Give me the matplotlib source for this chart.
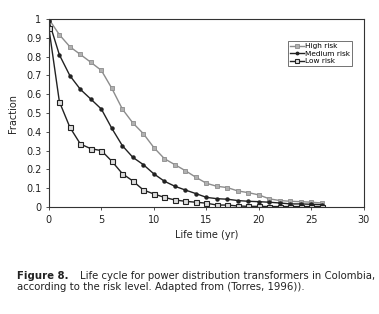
import numpy as np
import matplotlib
matplotlib.use("Agg")
import matplotlib.pyplot as plt

# values
years = list(range(0, 27))
high_risk = [1.0, 0.917, 0.853, 0.812, 0.770, 0.727, 0.631, 0.521, 0.447, 0.390,
             0.316, 0.257, 0.225, 0.193, 0.158, 0.126, 0.110, 0.103, 0.085, 0.076,
             0.064, 0.043, 0.034, 0.030, 0.028, 0.025, 0.021]
medium_risk = [0.99, 0.810, 0.699, 0.626, 0.574, 0.521, 0.418, 0.326, 0.264, 0.225,
               0.176, 0.137, 0.110, 0.090, 0.071, 0.051, 0.044, 0.041, 0.034, 0.030,
               0.028, 0.025, 0.021, 0.016, 0.016, 0.014, 0.012]
low_risk = [0.952, 0.560, 0.424, 0.335, 0.310, 0.300, 0.243, 0.177, 0.138, 0.090,
            0.069, 0.051, 0.037, 0.030, 0.025, 0.020, 0.010, 0.010, 0.005, 0.003,
            0.003, 0.002, 0.002, 0.002, 0.002, 0.002, 0.002]
labels = ["High risk", "Medium risk", "Low risk"]

fig = plt.figure(figsize=(3.79, 3.14), dpi=100)
ax = fig.add_axes([0.129, 0.341, 0.831, 0.598])

ax.plot(years, high_risk, color="#8c8c8c", lw=1.0, marker="s", ms=3.0,
        mfc="#b0b0b0", mec="#8c8c8c", mew=0.6, label=labels[0])
ax.plot(years, medium_risk, color="#222222", lw=1.0, marker="o", ms=2.2,
        mfc="#222222", mec="#222222", label=labels[1])
ax.plot(years, low_risk, color="#222222", lw=1.0, marker="s", ms=3.6,
        mfc="#dddddd", mec="#222222", mew=0.8, label=labels[2])

ax.set_xlim(0, 30)
ax.set_ylim(0, 1)
ax.set_xticks(np.arange(0, 31, 5))
ax.set_yticks(np.arange(0, 1.01, 0.1))
ax.set_yticklabels(["0", "0.1", "0.2", "0.3", "0.4", "0.5", "0.6", "0.7", "0.8", "0.9", "1"])
ax.tick_params(labelsize=7, length=2.5, width=0.6, color="#333333", labelcolor="#222222", pad=3)
for s in ax.spines.values():
    s.set_linewidth(0.8)
    s.set_color("#333333")
ax.set_xlabel("Life time (yr)", fontsize=7, color="#222222", labelpad=4)
ax.set_ylabel("Fraction", fontsize=7, color="#222222", labelpad=6)

leg = ax.legend(loc="upper right", bbox_to_anchor=(0.962, 0.883), fontsize=5.3,
                frameon=True, fancybox=False, borderpad=0.25, handlelength=2.0,
                handletextpad=0.1, labelspacing=0.2, borderaxespad=0, markerscale=0.8)
leg.get_frame().set_edgecolor("#333333")
leg.get_frame().set_linewidth(0.6)

fig.text(0.045, 0.121, "Figure 8.", fontsize=7.3, fontweight="bold", color="#222222", va="center")
fig.text(0.211, 0.121, "Life cycle for power distribution transformers in Colombia,",
         fontsize=7.25, color="#222222", va="center")
fig.text(0.045, 0.086, "according to the risk level. Adapted from (Torres, 1996)).",
         fontsize=7.25, color="#222222", va="center")

fig.savefig("out.png", dpi=100)
